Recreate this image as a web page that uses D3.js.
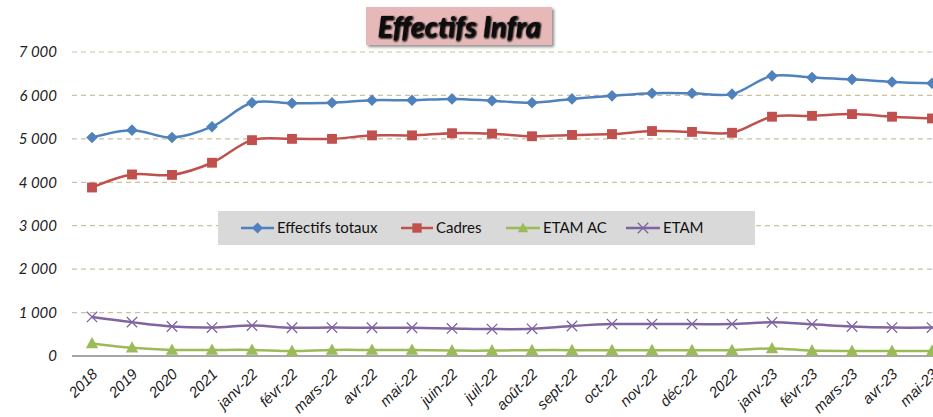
<!DOCTYPE html>
<html><head><meta charset="utf-8">
<script src="https://cdn.jsdelivr.net/npm/d3@7"></script>
<style>
body{margin:0;background:#fff;}
svg{display:block;font-family:Lato,"Open Sans",sans-serif;}
</style></head>
<body><svg id="c" width="933" height="417"></svg>
<script>
const categories = ["2018","2019","2020","2021","janv-22","févr-22","mars-22","avr-22","mai-22","juin-22","juil-22","août-22","sept-22","oct-22","nov-22","déc-22","2022","janv-23","févr-23","mars-23","avr-23","mai-23"];
const totaux = [5030,5200,5030,5280,5830,5820,5830,5890,5890,5920,5880,5830,5920,5990,6050,6050,6030,6450,6410,6370,6310,6280];
const cadres = [3880,4180,4170,4450,4970,5000,5000,5080,5080,5130,5120,5060,5090,5110,5180,5160,5140,5510,5530,5570,5510,5470];
const etamAC = [290,190,140,140,140,115,140,140,140,125,125,135,135,135,135,135,135,175,125,115,115,115];
const etam = [900,780,680,655,700,650,655,650,650,635,620,625,690,735,735,735,735,775,730,680,655,655];
const yTicks = [0,1000,2000,3000,4000,5000,6000,7000];
const seriesNames = ["Effectifs totaux","Cadres","ETAM AC","ETAM"];
const seriesColors = ["#4f81bd","#c0504d","#9bbb59","#8064a2"];
const seriesMarkers = ["diamond","square","triangle","x"];
const seriesValues = [totaux,cadres,etamAC,etam];

const svg = d3.select("#c");
const x = d3.scalePoint().domain(categories).range([72,952]).padding(0.5);
const y = d3.scaleLinear().domain([0,7000]).range([356,52]);
const fmt = v => d3.format(",")(v).replace(/,/g," ");

const defs = svg.append("defs");
const f = defs.append("filter").attr("id","tsh").attr("x","-20%").attr("y","-40%").attr("width","140%").attr("height","180%");
f.append("feGaussianBlur").attr("in","SourceAlpha").attr("stdDeviation",1.2).attr("result","b");
f.append("feOffset").attr("in","b").attr("dx",0.5).attr("dy",0.5).attr("result","o");
const m = f.append("feMerge"); m.append("feMergeNode").attr("in","o"); m.append("feMergeNode").attr("in","o"); m.append("feMergeNode").attr("in","SourceGraphic");
const f2 = defs.append("filter").attr("id","bsh").attr("x","-10%").attr("y","-20%").attr("width","120%").attr("height","150%");
f2.append("feGaussianBlur").attr("in","SourceAlpha").attr("stdDeviation",1.5).attr("result","b");
f2.append("feOffset").attr("in","b").attr("dx",2).attr("dy",2).attr("result","o");
f2.append("feComponentTransfer").attr("in","o").attr("result","o2").append("feFuncA").attr("type","linear").attr("slope",0.45);
const m2 = f2.append("feMerge"); m2.append("feMergeNode").attr("in","o2"); m2.append("feMergeNode").attr("in","SourceGraphic");

// gridlines
svg.append("g").selectAll("line").data(yTicks.filter(d=>d>0)).join("line")
  .attr("x1",72).attr("x2",952).attr("y1",d=>y(d)).attr("y2",d=>y(d))
  .attr("stroke","#c9c29c").attr("stroke-width",1.2).attr("stroke-dasharray","5,4");

// y axis labels
const yAxis = d3.axisLeft(y).tickValues(yTicks).tickFormat(fmt).tickSize(0).tickPadding(0);
const yg = svg.append("g").attr("transform","translate(57,0)").call(yAxis);
yg.select(".domain").remove();
yg.selectAll("text").attr("font-size",15).attr("font-style","italic").attr("fill","#222").attr("font-family","Lato,sans-serif");

// x axis
const xAxis = d3.axisBottom(x).tickSize(0).tickPadding(0);
const xg = svg.append("g").attr("transform","translate(0,356)").call(xAxis);
xg.select(".domain").attr("stroke","#8a8a8a").attr("stroke-width",1.3).attr("d","M72,0H952");
xg.selectAll("text").attr("font-size",15).attr("font-style","italic").attr("fill","#222")
  .attr("text-anchor","end").attr("dy",0).attr("y",0)
  .attr("transform","translate(6,19) rotate(-45)");

// lines
const line = d3.line().x((d,i)=>x(categories[i])).y(d=>y(d)).curve(d3.curveCatmullRom.alpha(0.5));
function marker(g, type, color, s){
  if(type==="diamond"){ g.append("path").attr("d",`M0,${-s}L${s},0L0,${s}L${-s},0Z`).attr("fill",color); }
  else if(type==="square"){ g.append("rect").attr("x",-s*0.85).attr("y",-s*0.85).attr("width",s*1.7).attr("height",s*1.7).attr("fill",color); }
  else if(type==="triangle"){ g.append("path").attr("d",`M0,${-s}L${s*0.95},${s*0.75}L${-s*0.95},${s*0.75}Z`).attr("fill",color); }
  else { const k=s*0.8; g.append("path").attr("d",`M${-k},${-k}L${k},${k}M${k},${-k}L${-k},${k}`).attr("stroke",color).attr("stroke-width",1.3).attr("fill","none"); }
}
seriesValues.forEach((vals,si)=>{
  const g = svg.append("g");
  g.append("path").datum(vals).attr("d",line).attr("fill","none").attr("stroke",seriesColors[si]).attr("stroke-width",2.5);
  vals.forEach((v,i)=>{
    const mg = g.append("g").attr("transform",`translate(${x(categories[i])},${y(v)})`);
    marker(mg, seriesMarkers[si], seriesColors[si], si===3?6.5:(si===2?6.5:5.8));
  });
});

// legend
const lg = svg.append("g");
lg.append("rect").attr("x",218).attr("y",211).attr("width",537).attr("height",34).attr("fill","#d9d9d9");
const legendX = [241,401,506,626];
const legendW = [33,32,34,34];
seriesNames.forEach((n,i)=>{
  const g = lg.append("g").attr("transform",`translate(${legendX[i]},228)`);
  g.append("line").attr("x1",0).attr("x2",legendW[i]).attr("stroke",seriesColors[i]).attr("stroke-width",2.5);
  const mg = g.append("g").attr("transform",`translate(${legendW[i]/2},0)`);
  marker(mg, seriesMarkers[i], seriesColors[i], i===3?6.5:5.5);
  g.append("text").attr("x",legendW[i]+3).attr("y",5).attr("font-size",15).attr("fill","#111").text(n);
});

// title
const tg = svg.append("g");
tg.append("rect").attr("x",366).attr("y",7).attr("width",186).attr("height",38).attr("fill","#e6b9b8").attr("filter","url(#bsh)");
tg.append("text").attr("x",459).attr("y",37).attr("text-anchor","middle").attr("font-size",29).attr("font-weight","bold").attr("font-style","italic")
  .attr("fill","#111").attr("filter","url(#tsh)").text("Effectifs Infra");
</script></body></html>
